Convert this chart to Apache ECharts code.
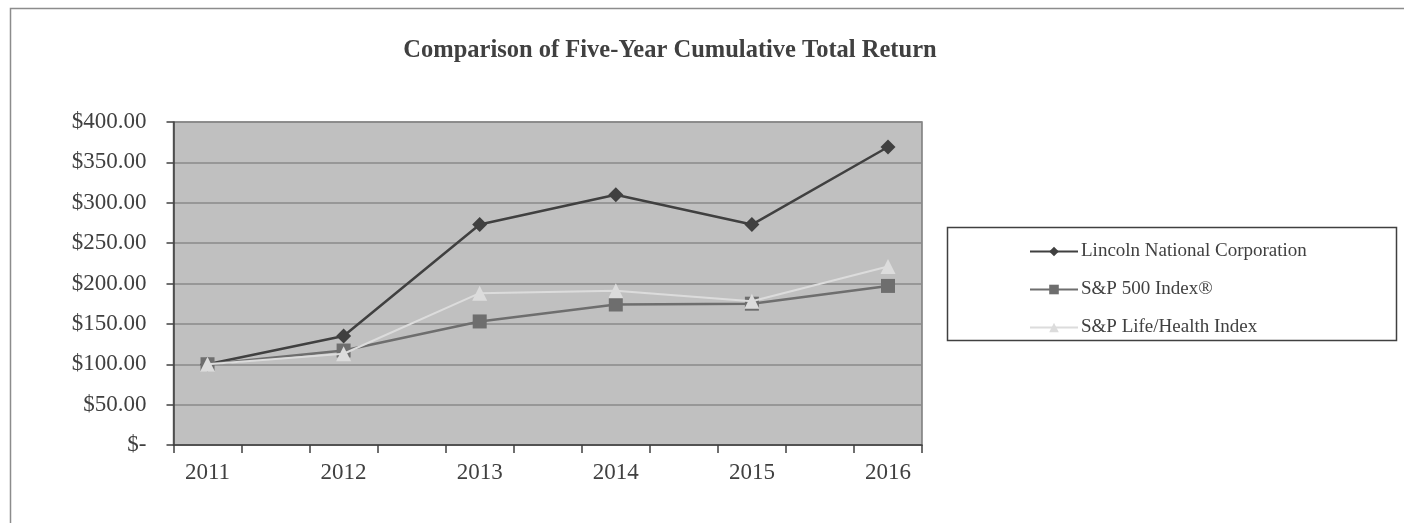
<!DOCTYPE html>
<html>
<head>
<meta charset="utf-8">
<script src="https://cdn.jsdelivr.net/npm/echarts@6/dist/echarts.min.js"></script>
<style>
  html, body { margin: 0; padding: 0; background: #fff; }
  #main { width: 1404px; height: 523px; }
</style>
</head>
<body>
<div id="main"></div>
<script>
// data
const years = [2011, 2012, 2013, 2014, 2015, 2016];
const lincoln = [100, 135, 273, 310, 273, 369];
const sp500 = [100, 117, 153, 174, 175, 197];
const lifeHealth = [100, 113, 188, 191, 178, 221];
const seriesNames = ['Lincoln National Corporation', 'S&P 500 Index®', 'S&P Life/Health Index'];

const font = 'Liberation Serif';
const xMin = years[0] - 0.25;
const xMax = years[years.length - 1] + 0.25;

// half-year tick marks, like the original
let tickValues = [];
for (let v = xMin; v <= xMax + 1e-9; v += 0.5) tickValues.push(v);

function pairs(vals) {
  return years.map((y, i) => [y, vals[i]]);
}

let chart = echarts.init(document.getElementById('main'));

let option = {
  animation: false,
  backgroundColor: '#fff',
  title: {
    text: 'Comparison of Five-Year Cumulative Total Return',
    left: 665,
    textAlign: 'center',
    top: 33,
    textStyle: { fontFamily: font, fontWeight: 'bold', fontSize: 24.5, color: '#404040' }
  },
  graphic: [
    {
      type: 'rect',
      shape: { x: 10.5, y: 8.5, width: 1500, height: 600 },
      style: { fill: 'none', stroke: '#8c8c8c', lineWidth: 1.5 },
      silent: true
    },
    {
      type: 'rect',
      shape: { x: 947.5, y: 227.5, width: 449, height: 113 },
      style: { fill: '#fff', stroke: '#404040', lineWidth: 1.5 },
      silent: true,
      z: 0
    }
  ],
  legend: {
    orient: 'vertical',
    left: 1024,
    top: 236,
    itemWidth: 48,
    itemHeight: 12,
    itemGap: 17,
    textStyle: { fontFamily: font, fontSize: 19, color: '#404040', lineHeight: 21, padding: [0, 0, 0, -2] },
    data: seriesNames
  },
  grid: {
    left: 173.5,
    right: 482,
    top: 122,
    bottom: 78,
    show: true,
    backgroundColor: '#c0c0c0',
    borderColor: '#7a7a7a',
    borderWidth: 1.5
  },
  xAxis: {
    type: 'value',
    min: xMin,
    max: xMax,
    axisLine: { onZero: false, lineStyle: { color: '#404040', width: 1.5 } },
    axisTick: { show: true, length: 8, inside: false, customValues: tickValues, lineStyle: { color: '#404040', width: 1.5 } },
    axisLabel: {
      customValues: years,
      margin: 16,
      fontFamily: font,
      fontSize: 23,
      color: '#404040',
      formatter: v => String(Math.round(v))
    },
    splitLine: { show: false }
  },
  yAxis: {
    type: 'value',
    min: 0,
    max: 400,
    interval: 50,
    axisLine: { show: true, lineStyle: { color: '#404040', width: 1.5 } },
    axisTick: { show: true, length: 7, lineStyle: { color: '#404040', width: 1.5 } },
    axisLabel: {
      margin: 27,
      fontFamily: font,
      fontSize: 23,
      color: '#404040',
      formatter: v => v === 0 ? '$-' : '$' + v.toFixed(2)
    },
    splitLine: { show: true, lineStyle: { color: '#8a8a8a', width: 1.5 } }
  },
  series: [
    {
      name: seriesNames[0],
      type: 'line',
      data: pairs(lincoln),
      symbol: 'diamond',
      symbolSize: 15,
      z: 2,
      lineStyle: { color: '#404040', width: 2.5 },
      itemStyle: { color: '#404040' }
    },
    {
      name: seriesNames[1],
      type: 'line',
      data: pairs(sp500),
      symbol: 'rect',
      symbolSize: 14,
      z: 3,
      lineStyle: { color: '#6e6e6e', width: 2.5 },
      itemStyle: { color: '#6e6e6e' }
    },
    {
      name: seriesNames[2],
      type: 'line',
      data: pairs(lifeHealth),
      symbol: 'triangle',
      symbolSize: 15,
      z: 4,
      lineStyle: { color: '#dcdcdc', width: 2 },
      itemStyle: { color: '#dcdcdc' }
    }
  ]
};

chart.setOption(option);
</script>
</body>
</html>
